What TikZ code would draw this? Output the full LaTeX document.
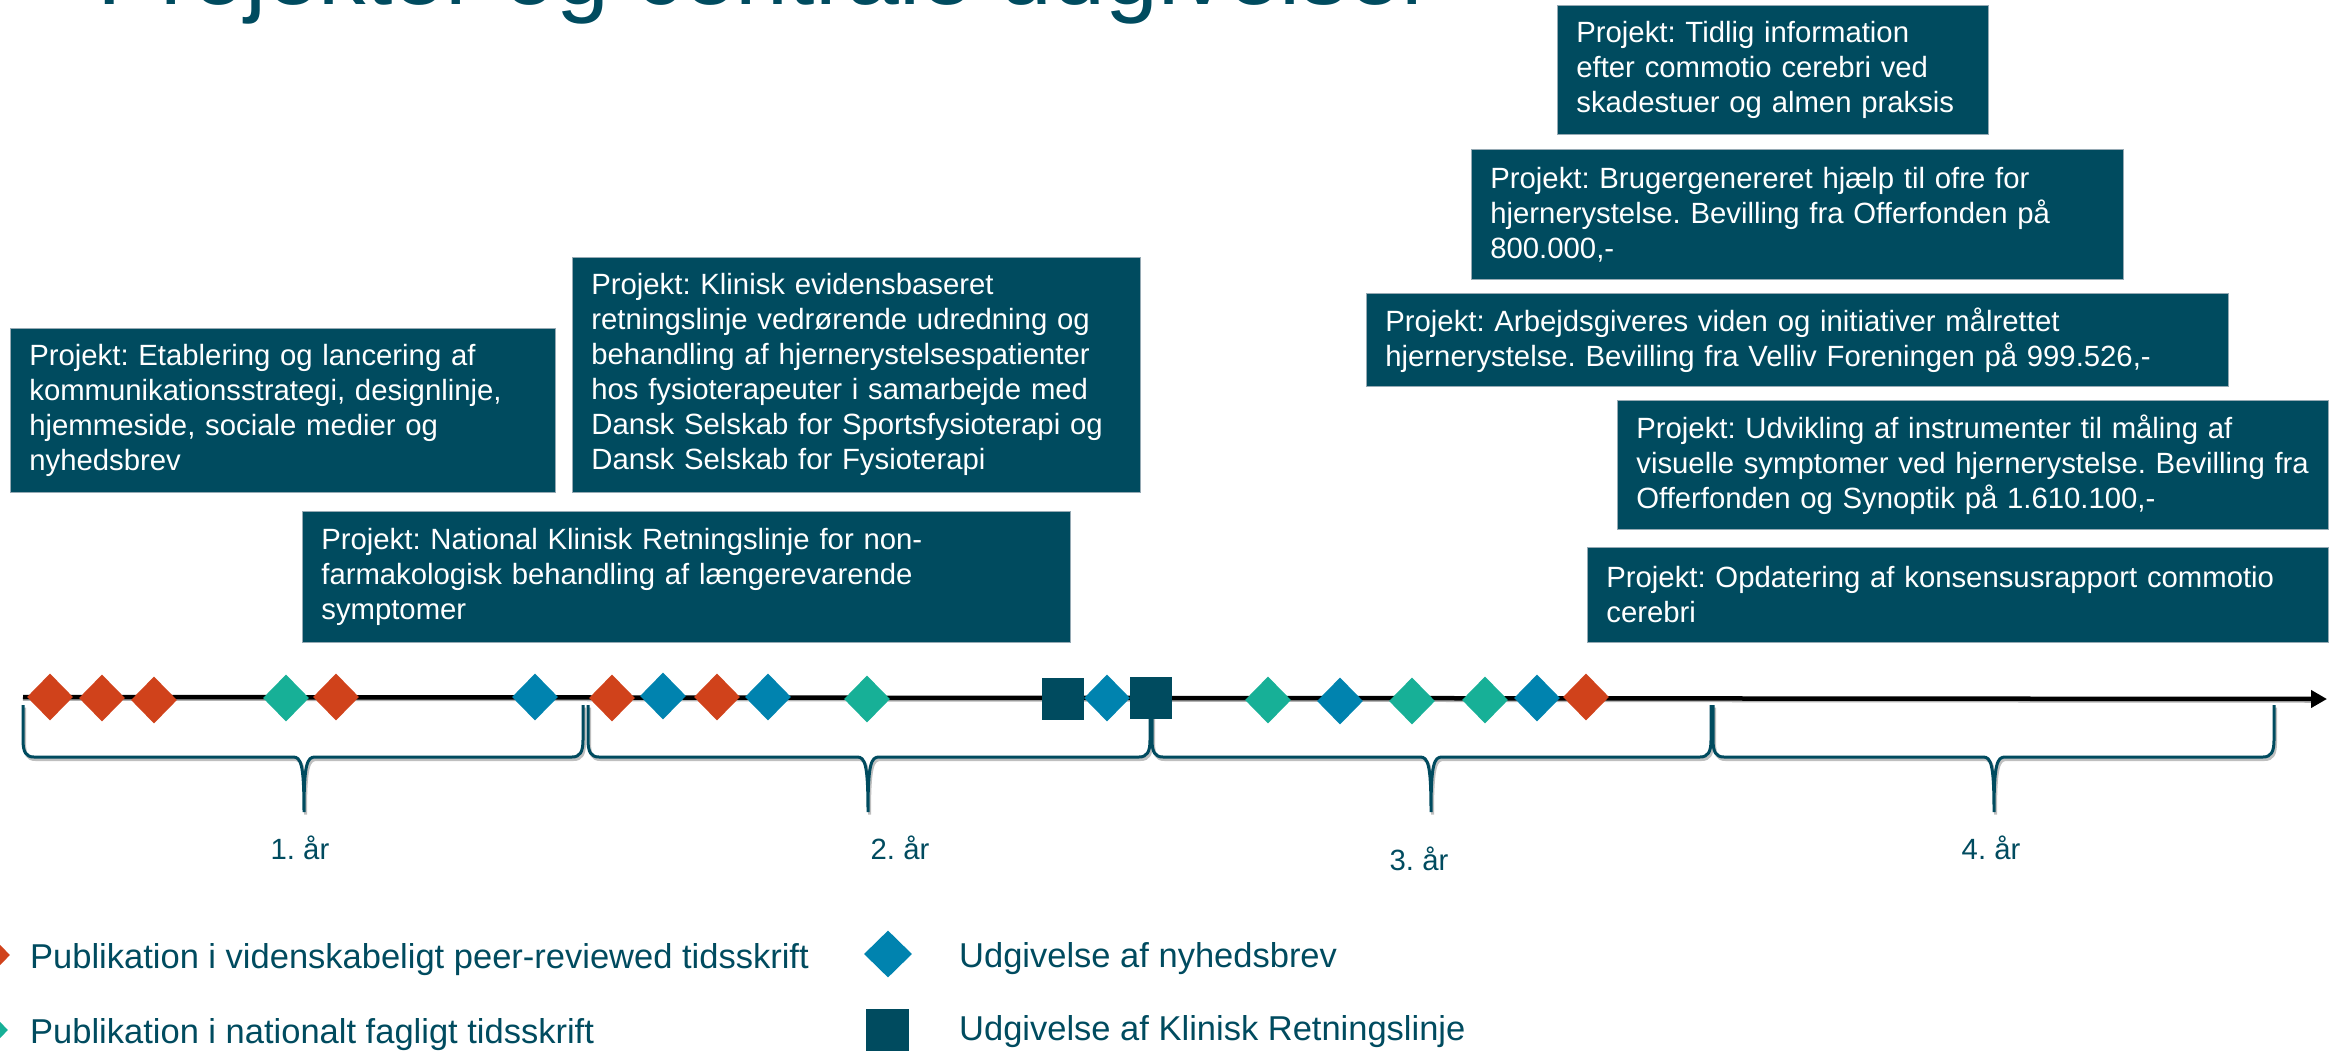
\documentclass[tikz,border=0pt]{standalone}
\usepackage{fontspec}
\setmainfont{Liberation Sans}
\usetikzlibrary{shapes.geometric,arrows.meta}
\frenchspacing
\definecolor{darkteal}{RGB}{0,75,95}
\definecolor{pubred}{RGB}{208,66,27}
\definecolor{pubgreen}{RGB}{23,176,151}
\definecolor{newsblue}{RGB}{0,131,175}
\definecolor{boxedge}{RGB}{150,170,180}
\newcommand\boxfont{\fontsize{29.3}{35}\selectfont}
\newcommand\legfont{\fontsize{34.5}{41}\selectfont}
\newcommand\titlefont{\fontsize{95}{110}\selectfont}
\newcommand\oneline[1]{\mbox{#1}}
\newcommand\yearbrace[4][]{%
  \draw[#1] (#2,705) -- (#2,740) .. controls (#2,752) and ({#2+3},757) .. ({#2+11},757)
  -- ({#3-11},757) .. controls ({#3-3},757) and (#3,764) .. (#3,812)
  .. controls (#3,764) and ({#3+3},757) .. ({#3+11},757)
  -- ({#4-11},757) .. controls ({#4-3},757) and (#4,752) .. (#4,740) -- (#4,705);}
\begin{document}
\begin{tikzpicture}[x=1pt,y=-1pt,
  projbox/.style={fill=darkteal, draw=boxedge, line width=0.7pt, text=white, font=\boxfont,
    align=left, inner xsep=19pt, inner ysep=0pt, anchor=north west},
  markd/.style={diamond, draw=none, inner sep=0pt, minimum width=46pt, minimum height=47pt},
  marks/.style={rectangle, draw=none, fill=darkteal, inner sep=0pt, minimum width=42pt, minimum height=42pt},
  yearlabel/.style={font=\boxfont, text=darkteal, anchor=base, inner sep=0pt},
  legtext/.style={font=\legfont, text=darkteal, anchor=base west, inner sep=0pt},
  timeline/.style={line width=4.5pt, draw=black, -{Triangle[length=16pt,width=17pt]}},
  tlshadow/.style={line width=2.5pt, draw=black!30},
  bracestyle/.style={draw=darkteal, line width=3pt},
  braceshadow/.style={draw=black!25, line width=3pt, shift={(1.5,2.5)}}]
\useasboundingbox (0,0) rectangle (2341,1051);

% title (cut by the top edge)
\node[anchor=base west, inner sep=0pt, font=\titlefont, text=darkteal] (title) at (97,5) {Projekter og centrale udgivelser};

% project boxes
\node[projbox, minimum width=545pt, text width=507pt, minimum height=164pt] (pA) at (10,328)
  {\oneline{Projekt: Etablering og lancering af}\\\oneline{kommunikationsstrategi, designlinje,}\\\oneline{hjemmeside, sociale medier og}\\\oneline{nyhedsbrev}};
\node[projbox, minimum width=568pt, text width=530pt, minimum height=235pt] (pB) at (572,257)
  {\oneline{Projekt: Klinisk evidensbaseret}\\\oneline{retningslinje vedrørende udredning og}\\\oneline{behandling af hjernerystelsespatienter}\\\oneline{hos fysioterapeuter i samarbejde med}\\\oneline{Dansk Selskab for Sportsfysioterapi og}\\\oneline{Dansk Selskab for Fysioterapi}};
\node[projbox, minimum width=768pt, text width=730pt, minimum height=131pt] (pC) at (302,511)
  {\oneline{Projekt: National Klinisk Retningslinje for non-}\\\oneline{farmakologisk behandling af længerevarende}\\\oneline{symptomer}};
\node[projbox, minimum width=431pt, text width=393pt, minimum height=129pt] (pD) at (1557,5)
  {\oneline{Projekt: Tidlig information}\\\oneline{efter commotio cerebri ved}\\\oneline{skadestuer og almen praksis}};
\node[projbox, minimum width=652pt, text width=614pt, minimum height=130pt] (pE) at (1471,149)
  {\oneline{Projekt: Brugergenereret hjælp til ofre for}\\\oneline{hjernerystelse. Bevilling fra Offerfonden på}\\\oneline{800.000,-}};
\node[projbox, minimum width=862pt, text width=824pt, minimum height=93pt] (pF) at (1366,293)
  {\oneline{Projekt: Arbejdsgiveres viden og initiativer målrettet}\\\oneline{hjernerystelse. Bevilling fra Velliv Foreningen på 999.526,-}};
\node[projbox, minimum width=711pt, text width=673pt, minimum height=129pt] (pG) at (1617,400)
  {\oneline{Projekt: Udvikling af instrumenter til måling af}\\\oneline{visuelle symptomer ved hjernerystelse. Bevilling fra}\\\oneline{Offerfonden og Synoptik på 1.610.100,-}};
\node[projbox, minimum width=741pt, text width=703pt, minimum height=95pt] (pH) at (1587,547)
  {\oneline{Projekt: Opdatering af konsensusrapport commotio}\\\oneline{cerebri}};

% timeline
\coordinate (tlstart) at (23,697);
\coordinate (tlend) at (2327,699);
\draw[tlshadow] ([yshift=-2.5pt]tlstart) -- ([xshift=-14pt,yshift=-2.5pt]tlend);
\draw[timeline] (tlstart) -- (tlend);

% braces
\yearbrace[braceshadow]{23}{304}{583}
\yearbrace[braceshadow]{588}{868}{1150}
\yearbrace[braceshadow]{1152}{1431}{1711}
\yearbrace[braceshadow]{1713}{1994}{2274}
\yearbrace[bracestyle]{23}{304}{583}
\yearbrace[bracestyle]{588}{868}{1150}
\yearbrace[bracestyle]{1152}{1431}{1711}
\yearbrace[bracestyle]{1713}{1994}{2274}

% markers
\foreach \mx/\my/\mc [count=\i] in {50/697/pubred, 102/698/pubred, 154/700/pubred,
  286/698/pubgreen, 336/697/pubred, 535/697/newsblue, 612/698/pubred, 663/696/newsblue,
  717/697/pubred, 768/697/newsblue, 867/699/pubgreen}
  \node[markd, fill=\mc] (ma\i) at (\mx,\my) {};
\node[marks] (sq1) at (1063,699) {};
\node[markd, fill=newsblue] (mb1) at (1107,698) {};
\node[marks] (sq2) at (1151,698) {};
\foreach \mx/\my/\mc [count=\i] in {1268/700/pubgreen, 1340/701/newsblue, 1412/701/pubgreen,
  1485/700/pubgreen, 1537/698/newsblue, 1586/697/pubred}
  \node[markd, fill=\mc] (mc\i) at (\mx,\my) {};

% year labels
\node[yearlabel] (y1) at (300,859) {1. år};
\node[yearlabel] (y2) at (900,859) {2. år};
\node[yearlabel] (y3) at (1419,870) {3. år};
\node[yearlabel] (y4) at (1991,859) {4. år};

% legend
\node[markd, fill=pubred] (lg1m) at (-13,955) {};
\node[legtext] (lg1) at (30,968) {Publikation i videnskabeligt peer-reviewed tidsskrift};
\node[markd, fill=pubgreen] (lg2m) at (-15,1030) {};
\node[legtext] (lg2) at (30,1043) {Publikation i nationalt fagligt tidsskrift};
\node[markd, fill=newsblue, minimum width=48pt] (lg3m) at (888,954) {};
\node[legtext] (lg3) at (959,967) {Udgivelse af nyhedsbrev};
\node[marks, minimum width=43pt] (lg4m) at (887,1030) {};
\node[legtext] (lg4) at (959,1040) {Udgivelse af Klinisk Retningslinje};
\end{tikzpicture}
\end{document}
